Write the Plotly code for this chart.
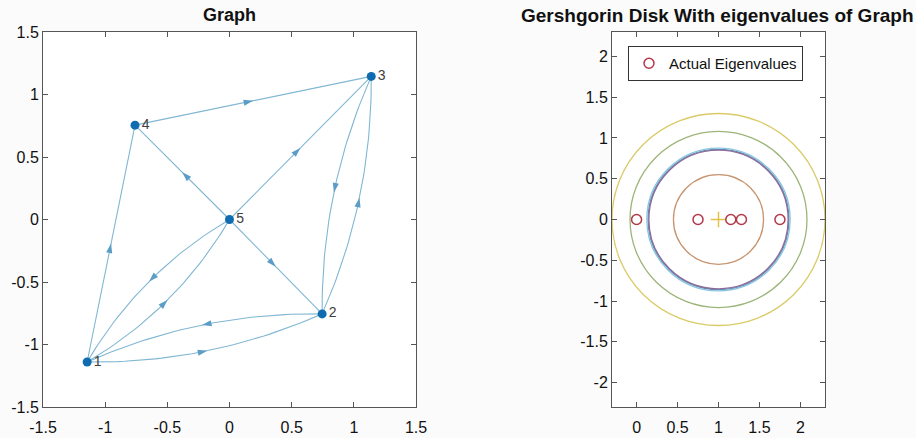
import numpy as np
import plotly.graph_objects as go

# ---- graph data ----
node_ids = ["1", "2", "3", "4", "5"]
node_x = [-1.145, 0.745, 1.14, -0.76, 0.0]
node_y = [-1.14, -0.755, 1.145, 0.755, 0.0]
# directed edges (source, target), 1-based node numbers
edge_src = [4, 5, 5, 5, 1, 2, 3, 1, 2, 1, 5]
edge_dst = [3, 4, 3, 2, 4, 3, 2, 2, 1, 5, 1]

# ---- Gershgorin data ----
disk_centers = [1.0, 1.0, 1.0, 1.0, 1.0, 1.0]
disk_radii = [0.86, 0.55, 1.30, 0.85, 1.08, 0.875]
disk_colors = ["#5f8fba", "#c8946f", "#dacb66", "#8e6c99", "#9db57a", "#8cc6de"]
eig_re = [0.0, 0.75, 1.15, 1.28, 1.75]
eig_im = [0.0, 0.0, 0.0, 0.0, 0.0]

EDGE_COLOR = "#80b7d2"
ARROW_COLOR = "#5b9dc6"
NODE_COLOR = "#0f6cb0"
FONT = "Liberation Sans, Arial, Helvetica, sans-serif"

fig = go.Figure()

pairs = set(zip(edge_src, edge_dst))
bend = 0.105  # sideways offset of a curved edge at its middle
ex, ey, ax_, ay_, aang = [], [], [], [], []
for s, d in zip(edge_src, edge_dst):
    x0, y0 = node_x[s - 1], node_y[s - 1]
    x1, y1 = node_x[d - 1], node_y[d - 1]
    dx, dy = x1 - x0, y1 - y0
    L = np.hypot(dx, dy)
    if (d, s) in pairs:
        # reciprocal pair: each edge bows to its right-hand side
        nx, ny = dy / L, -dx / L
        cx = (x0 + x1) / 2 + 2 * bend * nx
        cy = (y0 + y1) / 2 + 2 * bend * ny
        t = np.linspace(0, 1, 40)
        px = (1 - t) ** 2 * x0 + 2 * (1 - t) * t * cx + t ** 2 * x1
        py = (1 - t) ** 2 * y0 + 2 * (1 - t) * t * cy + t ** 2 * y1
        mx, my = 0.25 * x0 + 0.5 * cx + 0.25 * x1, 0.25 * y0 + 0.5 * cy + 0.25 * y1
    else:
        px = np.array([x0, x1])
        py = np.array([y0, y1])
        mx, my = (x0 + x1) / 2, (y0 + y1) / 2
    ex += list(px) + [None]
    ey += list(py) + [None]
    ax_.append(mx)
    ay_.append(my)
    aang.append(np.degrees(np.arctan2(dx, dy)))

fig.add_trace(go.Scatter(x=ex, y=ey, mode="lines", line=dict(color=EDGE_COLOR, width=1.1),
                         hoverinfo="skip", showlegend=False, xaxis="x", yaxis="y"))
fig.add_trace(go.Scatter(x=ax_, y=ay_, mode="markers",
                         marker=dict(symbol="arrow", size=10, angle=aang, color=ARROW_COLOR,
                                     line=dict(width=0)),
                         hoverinfo="skip", showlegend=False, xaxis="x", yaxis="y"))
fig.add_trace(go.Scatter(x=node_x, y=node_y, mode="markers+text", text=node_ids,
                         textposition="middle right",
                         textfont=dict(family=FONT, size=14, color="#404040"),
                         marker=dict(size=9, color=NODE_COLOR),
                         showlegend=False, xaxis="x", yaxis="y"))

# Gershgorin disks as circle outlines
for c, r, col in zip(disk_centers, disk_radii, disk_colors):
    fig.add_shape(type="circle", xref="x2", yref="y2", x0=c - r, x1=c + r, y0=-r, y1=r,
                  line=dict(color=col, width=1.3), layer="below")

fig.add_trace(go.Scatter(x=[disk_centers[0]], y=[0], mode="markers",
                         marker=dict(symbol="cross-thin", size=11,
                                     line=dict(color="#e2c24a", width=1.5)),
                         showlegend=False, xaxis="x2", yaxis="y2"))
fig.add_trace(go.Scatter(x=eig_re, y=eig_im, mode="markers", name="Actual Eigenvalues",
                         marker=dict(symbol="circle-open", size=10,
                                     line=dict(color="#b2384a", width=1.5), color="#b2384a"),
                         showlegend=True, xaxis="x2", yaxis="y2"))

axis_common = dict(showline=True, linecolor="#555555", linewidth=1, mirror="ticks",
                   ticks="inside", ticklen=5, tickcolor="#555555", showgrid=False,
                   zeroline=False, automargin=False,
                   tickfont=dict(family=FONT, size=16, color="#111111"))

fig.update_layout(
    width=916, height=438, autosize=False,
    margin=dict(l=0, r=0, t=0, b=0, autoexpand=False),
    paper_bgcolor="#fbfbfb", plot_bgcolor="#ffffff",
    xaxis=dict(domain=[43 / 916, 416 / 916], range=[-1.5, 1.5],
               tickvals=[-1.5, -1, -0.5, 0, 0.5, 1, 1.5],
               ticktext=["-1.5", "-1", "-0.5", "0", "0.5", "1", "1.5"], anchor="y",
               ticklabelstandoff=6, **axis_common),
    yaxis=dict(domain=[1 - 407 / 438, 1 - 32 / 438], range=[-1.5, 1.5],
               tickvals=[-1.5, -1, -0.5, 0, 0.5, 1, 1.5],
               ticktext=["-1.5", "-1", "-0.5", "0", "0.5", "1", "1.5"], anchor="x", **axis_common),
    xaxis2=dict(domain=[612 / 916, 825 / 916], range=[-0.3, 2.3],
                tickvals=[0, 0.5, 1, 1.5, 2], ticktext=["0", "0.5", "1", "1.5", "2"],
                anchor="y2", ticklabelstandoff=6, **axis_common),
    yaxis2=dict(domain=[1 - 407 / 438, 1 - 32 / 438], range=[-2.3, 2.3],
                tickvals=[-2, -1.5, -1, -0.5, 0, 0.5, 1, 1.5, 2],
                ticktext=["-2", "-1.5", "-1", "-0.5", "0", "0.5", "1", "1.5", "2"],
                anchor="x2", **axis_common),
    legend=dict(x=628 / 916, y=1 - 46 / 438, xanchor="left", yanchor="top",
                bgcolor="#ffffff", bordercolor="#333333", borderwidth=1,
                font=dict(family=FONT, size=15, color="#111111"),
                itemwidth=30, tracegroupgap=0),
    annotations=[
        dict(text="<b>Graph</b>", x=229.5 / 916, y=1 - 15 / 438, xref="paper", yref="paper",
             xanchor="center", yanchor="middle",
             showarrow=False, font=dict(family=FONT, size=18, color="#111111")),
        dict(text="<b>Gershgorin Disk With eigenvalues of Graph</b>", x=717 / 916, y=1 - 15 / 438,
             xref="paper", yref="paper", xanchor="center", yanchor="middle", showarrow=False,
             font=dict(family=FONT, size=19, color="#111111")),
    ],
)

fig.write_html("out.html")
